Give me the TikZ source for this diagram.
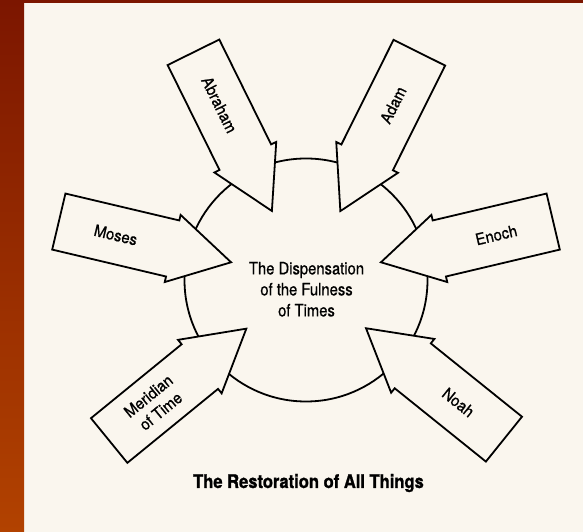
\documentclass[tikz,border=0pt]{standalone}
\usepackage{fontspec}
\newfontfamily\labfont[FakeStretch=0.93,FakeBold=0.8]{TeX Gyre Heros}
\newfontfamily\cenfont[FakeStretch=0.87,FakeBold=0.6]{TeX Gyre Heros}
\newfontfamily\capfont[FakeStretch=0.88,FakeBold=1.2]{TeX Gyre Heros}
\definecolor{cream}{RGB}{250,246,238}
\definecolor{topred}{RGB}{124,22,0}
\definecolor{botorange}{RGB}{178,66,0}
\newcommand\dispArrow[4]{%
  \begin{scope}[shift={(c)}, rotate=#1]
    \draw[arrowbody] (77,0) -- (137,34.5) -- (137,28.8) -- (254,28.8)
      -- (254,-28.8) -- (137,-28.8) -- (137,-34.5) -- cycle;
  \end{scope}
  \path (c) ++(#1:195.5) node[lab, rotate=#4] (#2) {#3};
}
\begin{document}
\begin{tikzpicture}[x=1pt, y=1pt,
  outl/.style={draw=black, line width=1.8pt, line join=miter},
  arrowbody/.style={outl, fill=cream},
  lab/.style={font=\labfont\fontsize{16}{19.5}\selectfont, inner sep=0pt, align=center},
  centre/.style={font=\cenfont\fontsize{17}{21}\selectfont, inner sep=0pt, align=center},
  caption/.style={font=\capfont\bfseries\fontsize{18.8}{21}\selectfont, inner sep=0pt}]
\useasboundingbox (0,0) rectangle (583,532);
\fill[cream] (0,0) rectangle (583,532);
\shade[top color=topred, bottom color=botorange] (0,0) rectangle (24,532);
\fill[topred] (24,529) rectangle (583,532);
\coordinate (c) at (306,252);
\node[circle, outl, minimum size=243pt, inner sep=0pt] (circ) at (c) {};
\dispArrow{13.3}{enoch}{Enoch}{13.3}
\dispArrow{63.5}{adam}{Adam}{63.5}
\dispArrow{116.3}{abraham}{Abraham}{-63.7}
\dispArrow{166.7}{moses}{Moses}{-13.3}
\dispArrow{219.2}{meridian}{Meridian\\of Time}{39.2}
\dispArrow{321.2}{noah}{Noah}{-38.8}
\node[centre] (disp) at (306.5,242.7) {The Dispensation\\of the Fulness\\of Times};
\node[caption, anchor=base] (title) at (308.5,44) {The Restoration of All Things};
\end{tikzpicture}
\end{document}
